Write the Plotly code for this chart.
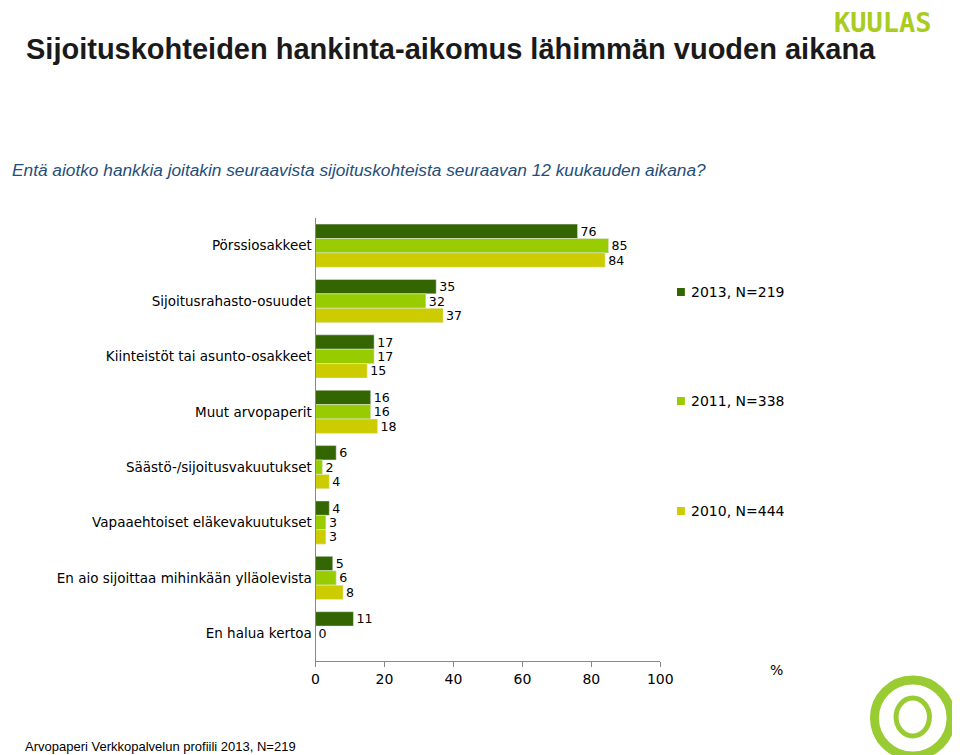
import plotly.graph_objects as go

categories = ["Pörssiosakkeet", "Sijoitusrahasto-osuudet", "Kiinteistöt tai asunto-osakkeet",
              "Muut arvopaperit", "Säästö-/sijoitusvakuutukset", "Vapaaehtoiset eläkevakuutukset",
              "En aio sijoittaa mihinkään ylläolevista", "En halua kertoa"]
s2013 = [76, 35, 17, 16, 6, 4, 5, 11]
s2011 = [85, 32, 17, 16, 2, 3, 6, 0]
s2010 = [84, 37, 15, 18, 4, 3, 8, None]
series = [("2013, N=219", s2013, "#336600"), ("2011, N=338", s2011, "#99CC00"), ("2010, N=444", s2010, "#CCCC00")]
x_ticks = [0, 20, 40, 60, 80, 100]

fig = go.Figure()
for name, vals, col in series:
    fig.add_trace(go.Bar(y=categories, x=vals, name=name, orientation="h", marker_color=col,
                         text=[("" if v is None else str(v)) for v in vals], textposition="outside",
                         cliponaxis=False, textfont=dict(size=14, color="#000")))

fig.update_layout(
    width=960, height=755, margin=dict(l=0, r=0, t=0, b=0), paper_bgcolor="white", plot_bgcolor="white",
    barmode="group", bargap=0.22, bargroupgap=0, showlegend=False,
    font=dict(family="DejaVu Sans", size=13.5, color="#000"),
    xaxis=dict(domain=[309/960, 660/960], range=[0, 100], tickvals=x_ticks, showgrid=False,
               showline=True, linecolor="#888", ticks="outside", ticklen=5, tickcolor="#888",
               tickfont=dict(size=14), anchor="y", zeroline=False),
    yaxis=dict(domain=[1-653/755, 1-210/755], autorange="reversed", showline=True, linecolor="#888",
               ticks="outside", ticklen=0, tickfont=dict(size=13.5), showgrid=False),
)
anns = [
    dict(x=-2/960, y=1-162/755, text="<i>Entä aiotko hankkia joitakin seuraavista sijoituskohteista seuraavan 12 kuukauden aikana?</i>",
         font=dict(family="Liberation Sans", size=17.3, color="#1F4E79")),
    dict(x=11/960, y=1-738/755, text="Arvopaperi Verkkopalvelun profiili 2013, N=219",
         font=dict(family="Liberation Sans", size=13, color="#000")),
    dict(x=770/960, y=1-662/755, text="%", font=dict(size=14)),
    dict(x=835/960, y=1-14/755, text="<b>KUULAS</b>", font=dict(family="DejaVu Sans Mono", size=27, color="#AACC22")),
]
for a in anns:
    fig.add_annotation(xref="paper", yref="paper", xanchor="left", yanchor="middle", showarrow=False, **a)
fig.add_annotation(xref="paper", yref="paper", x=882/960, y=1-41/755, xanchor="right", yanchor="middle",
                   showarrow=False, text="<b>Sijoituskohteiden hankinta-aikomus lähimmän vuoden aikana</b>",
                   font=dict(family="Liberation Sans", size=29, color="#1a1a1a"))
for (name, _, col), yy in zip(series, [284, 393, 503]):
    fig.add_shape(type="rect", xref="paper", yref="paper", x0=677/960, x1=685/960,
                  y0=1-(yy+4)/755, y1=1-(yy-4)/755, fillcolor=col, line_width=0)
    fig.add_annotation(xref="paper", yref="paper", x=689/960, y=1-yy/755, text=name, showarrow=False,
                       xanchor="left", yanchor="middle", font=dict(size=14))
fig.add_shape(type="circle", xref="paper", yref="paper", x0=878/960, x1=956/960, y0=1-748/755, y1=1-672/755,
              line=dict(color="#99CC33", width=9))
fig.add_shape(type="circle", xref="paper", yref="paper", x0=900/960, x1=934/960, y0=1-728/755, y1=1-690/755,
              line=dict(color="#99CC33", width=5))
fig.write_html("out.html")
